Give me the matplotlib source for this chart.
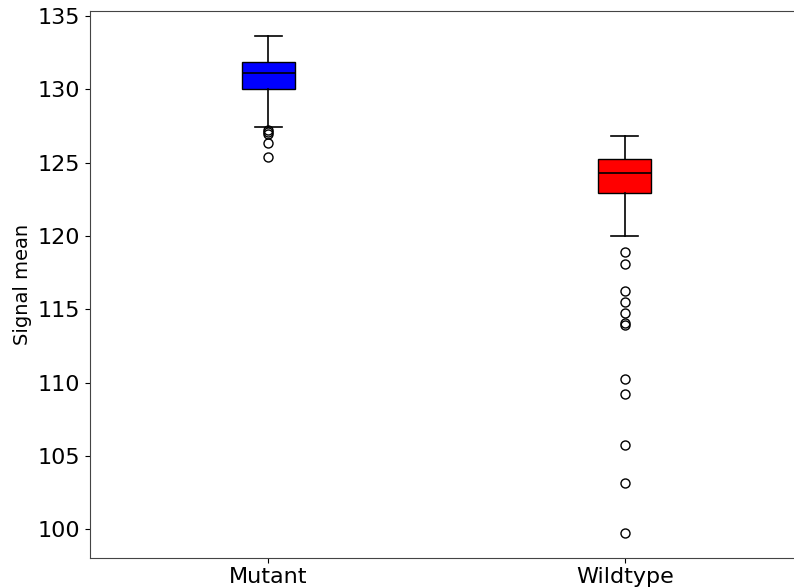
import matplotlib
matplotlib.use('Agg')
import matplotlib.pyplot as plt

labels = ['Mutant', 'Wildtype']
box_colors = ['blue', 'red']

# five-number summaries (lower whisker, Q1, median, Q3, upper whisker)
whislo = [127.40, 120.01]
q1 = [130.01, 122.90]
med = [131.08, 124.31]
q3 = [131.87, 125.22]
whishi = [133.65, 126.83]

mutant_fliers = [127.25, 127.1, 126.97, 126.31, 125.40]
wildtype_fliers = [118.88, 118.06, 116.26, 115.49, 114.72, 114.05, 113.9,
                   110.22, 109.22, 105.75, 103.14, 99.73]
fliers = [mutant_fliers, wildtype_fliers]

stats = []
for i in range(len(labels)):
    stats.append({'label': labels[i], 'whislo': whislo[i], 'q1': q1[i],
                  'med': med[i], 'q3': q3[i], 'whishi': whishi[i],
                  'fliers': fliers[i]})

fig = plt.figure(figsize=(7.94, 5.88), dpi=100)
ax = fig.add_axes([90 / 794, 30.3 / 588, 713 / 794, 546.7 / 588])

bp = ax.bxp(stats, widths=0.15, patch_artist=True,
            medianprops=dict(color='black', linewidth=1.2),
            whiskerprops=dict(color='black', linewidth=1.2),
            capprops=dict(color='black', linewidth=1.2),
            flierprops=dict(marker='o', markerfacecolor='none',
                            markeredgecolor='black', markersize=6.5))
for patch, c in zip(bp['boxes'], box_colors):
    patch.set_facecolor(c)
    patch.set_edgecolor('black')

ax.set_xlim(0.5, 2.5)
ax.set_ylim(98.06, 135.33)
ax.set_yticks([100, 105, 110, 115, 120, 125, 130, 135])
ax.set_ylabel('Signal mean', fontsize=14)
ax.tick_params(axis='both', labelsize=16)
for s in ax.spines.values():
    s.set_color('#444444')
# the plot runs off the right edge, so no right border shows
ax.spines['right'].set_visible(False)

fig.savefig('out.png', dpi=100)
